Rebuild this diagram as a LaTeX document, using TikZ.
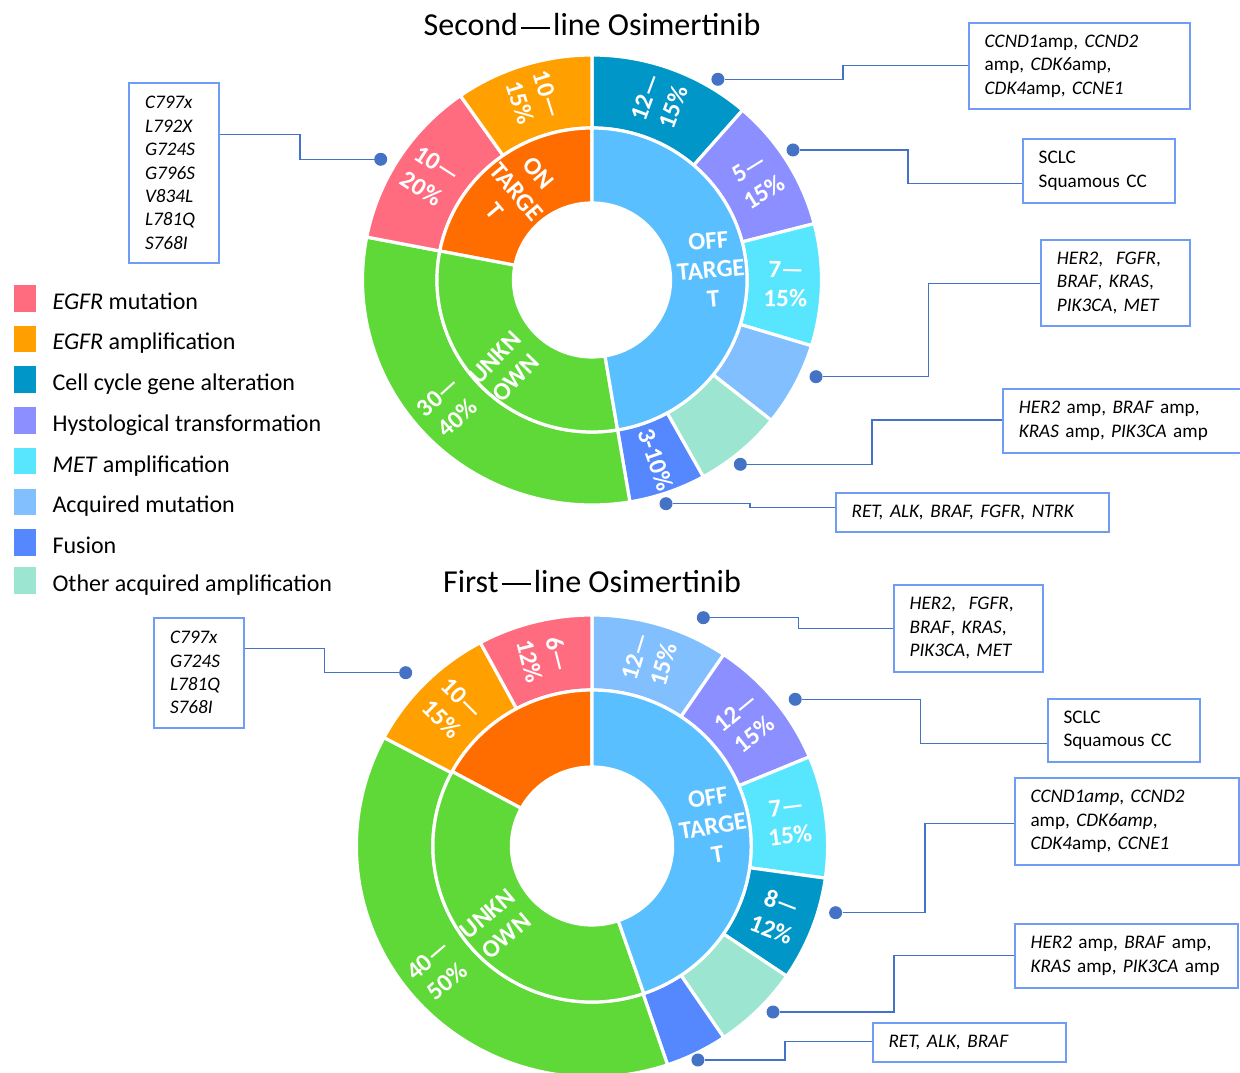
\documentclass[tikz,border=0pt]{standalone}
\usepackage{fontspec}
\setmainfont{Carlito}
\usetikzlibrary{positioning}

\definecolor{egfrmut}{HTML}{FF6C80}
\definecolor{egframp}{HTML}{FFA000}
\definecolor{cellcyc}{HTML}{0096C8}
\definecolor{histo}{HTML}{8C8FFF}
\definecolor{metamp}{HTML}{58E6FF}
\definecolor{acqmut}{HTML}{82BFFF}
\definecolor{fusion}{HTML}{5587FF}
\definecolor{othamp}{HTML}{9CE6D1}
\definecolor{ontarget}{HTML}{FF6D00}
\definecolor{offtarget}{HTML}{5ABFFF}
\definecolor{unknown}{HTML}{5FD937}
\definecolor{linkblue}{HTML}{4472C4}
\definecolor{boxblue}{HTML}{6F9DF5}

\newcommand{\longdash}{\kern0.1em\rule[0.21em]{0.9em}{0.065em}\kern0.1em}

\begin{document}
\begin{tikzpicture}[x=0.5pt, y=0.5pt,
        sector/.style={draw=white, line width=1.6pt},
        seglabel/.style={text=white, font=\fontsize{12.5}{14.5}\selectfont\bfseries, align=center, inner sep=0pt},
        legbox/.style={rectangle, minimum width=10.8pt, minimum height=13.3pt, inner sep=0pt},
        legtext/.style={inner sep=0pt, text height=11pt, text depth=0pt, font=\fontsize{12}{14}\selectfont},
        charttitle/.style={anchor=base, inner sep=0pt, font=\fontsize{16}{19}\selectfont},
        infobox/.style={rectangle, draw=boxblue, line width=1pt, fill=white, inner xsep=8pt, inner ysep=0pt, align=left, font=\fontsize{9.6}{11.7}\selectfont},
        linkdot/.style={circle, fill=linkblue, inner sep=0pt, minimum size=6.5pt},
        leader/.style={draw=linkblue, line width=0.75pt}]

        \useasboundingbox (0,0) rectangle (1240,1072);
        \fill[white] (0,0) rectangle (1240,1072);

        % Titles
        \node [charttitle] (title_second) at (592,1036) {Second\longdash line Osimertinib};
        \node [charttitle] (title_first) at (592,480) {First\longdash line Osimertinib};

        % Second-line chart
        \begin{scope}[shift={(592,792)}, xscale=1.02]
            \foreach \s/\e/\c in {49/90/cellcyc, 14.5/49/histo, -17/14.5/metamp, -38.6/-17/acqmut, -61/-38.6/othamp, -80.5/-61/fusion, 169/279.5/unknown, 125/169/egfrmut, 90/125/egframp}
                \path [sector, fill=\c] (\s:76pt) arc[start angle=\s, end angle=\e, radius=76pt] -- (\e:112.5pt) arc[start angle=\e, end angle=\s, radius=112.5pt] -- cycle;
            \foreach \s/\e/\c in {90/169/ontarget, 169/279.5/unknown, -80.5/90/offtarget}
                \path [sector, fill=\c] (\s:38.5pt) arc[start angle=\s, end angle=\e, radius=38.5pt] -- (\e:76pt) arc[start angle=\e, end angle=\s, radius=76pt] -- cycle;

            \node [seglabel, rotate=69.5] (s_cellcyc) at (69.5:95pt) {12—\\15\%};
            \node [seglabel, rotate=31.75] (s_histo) at (31.75:95pt) {5—\\15\%};
            \node [seglabel, rotate=-1.25] (s_metamp) at (-1.25:95pt) {7—\\15\%};
            \node [seglabel, rotate=-70.75] (s_fusion) at (-70.75:95pt) {3-10\%};
            \node [seglabel, rotate=42] (s_unknown) at (222:95pt) {30—\\40\%};
            \node [seglabel, rotate=-33] (s_egfrmut) at (147:95pt) {10—\\20\%};
            \node [seglabel, rotate=-72.5] (s_egframp) at (107.5:95pt) {10—\\15\%};
            \node [seglabel, rotate=-50] (s_on) at (130:57.5pt) {ON\\TARGE\\T};
            \node [seglabel, rotate=46] (s_unk) at (226:61pt) {UNKN\\OWN};
            \node [seglabel, rotate=5] (s_off) at (5:58.5pt) {OFF\\TARGE\\T};
        \end{scope}

        % First-line chart
        \begin{scope}[shift={(592,226)}, xscale=1.02]
            \foreach \s/\e/\c in {56/90/acqmut, 22.7/56/histo, -8/22.7/metamp, -34.3/-8/cellcyc, -56/-34.3/othamp, -71.3/-56/fusion, 152/288.7/unknown, 118.3/152/egframp, 90/118.3/egfrmut}
                \path [sector, fill=\c] (\s:78pt) arc[start angle=\s, end angle=\e, radius=78pt] -- (\e:115.5pt) arc[start angle=\e, end angle=\s, radius=115.5pt] -- cycle;
            \foreach \s/\e/\c in {90/151.5/ontarget, 151.5/289/unknown, -71/90/offtarget}
                \path [sector, fill=\c] (\s:39.5pt) arc[start angle=\s, end angle=\e, radius=39.5pt] -- (\e:78pt) arc[start angle=\e, end angle=\s, radius=78pt] -- cycle;

            \node [seglabel, rotate=73] (f_acqmut) at (73:97pt) {12—\\15\%};
            \node [seglabel, rotate=39.35] (f_histo) at (39.35:97pt) {12—\\15\%};
            \node [seglabel, rotate=7.35] (f_metamp) at (7.35:97pt) {7—\\15\%};
            \node [seglabel, rotate=-21.15] (f_cellcyc) at (-21.15:97pt) {8—\\12\%};
            \node [seglabel, rotate=40.35] (f_unknown) at (219.5:98pt) {40—\\50\%};
            \node [seglabel, rotate=-44.85] (f_egframp) at (135.15:97pt) {10—\\15\%};
            \node [seglabel, rotate=-75.85] (f_egfrmut) at (104.15:97pt) {6—\\12\%};
            \node [seglabel, rotate=40.25] (f_unk) at (220.25:61pt) {UNKN\\OWN};
            \node [seglabel, rotate=9.5] (f_off) at (9.5:60pt) {OFF\\TARGE\\T};
        \end{scope}

        % Legend
        \node [legbox, fill=egfrmut] (leg_egfrmut) at (25,773.7) {};
        \node [legbox, fill=egframp, below=6.65pt of leg_egfrmut] (leg_egframp) {};
        \node [legbox, fill=cellcyc, below=6.65pt of leg_egframp] (leg_cellcyc) {};
        \node [legbox, fill=histo, below=6.65pt of leg_cellcyc] (leg_histo) {};
        \node [legbox, fill=metamp, below=6.65pt of leg_histo] (leg_metamp) {};
        \node [legbox, fill=acqmut, below=6.65pt of leg_metamp] (leg_acqmut) {};
        \node [legbox, fill=fusion, below=6.65pt of leg_acqmut] (leg_fusion) {};
        \node [legbox, fill=othamp, below=5.2pt of leg_fusion] (leg_othamp) {};

        \node [legtext, right=8pt of leg_egfrmut] (lt_egfrmut) {\textit{EGFR} mutation};
        \node [legtext, right=8pt of leg_egframp] (lt_egframp) {\textit{EGFR} amplification};
        \node [legtext, right=8pt of leg_cellcyc] (lt_cellcyc) {Cell cycle gene alteration};
        \node [legtext, right=8pt of leg_histo] (lt_histo) {Hystological transformation};
        \node [legtext, right=8pt of leg_metamp] (lt_metamp) {\textit{MET} amplification};
        \node [legtext, right=8pt of leg_acqmut] (lt_acqmut) {Acquired mutation};
        \node [legtext, right=8pt of leg_fusion] (lt_fusion) {Fusion};
        \node [legtext, right=8pt of leg_othamp] (lt_othamp) {Other acquired amplification};

        % Boxes, second-line
        \node [infobox, text width=29pt, minimum height=90.3pt] (mutbox) at (174,899) {\textit{C797x}\\\textit{L792X}\\\textit{G724S}\\\textit{G796S}\\\textit{V834L}\\\textit{L781Q}\\\textit{S768I}};
        \node [infobox, text width=94.5pt, minimum height=43.3pt] (cellbox) at (1079.2,1006) {\textit{CCND1}amp, \textit{CCND2}\\amp, \textit{CDK6}amp,\\\textit{CDK4}amp, \textit{CCNE1}};
        \node [infobox, text width=59.9pt, minimum height=31.7pt] (histbox) at (1098.6,901) {SCLC\\Squamous CC};
        \node [infobox, text width=58.4pt, minimum height=43pt] (acqbox) at (1115.3,789) {\textit{HER2},~ \textit{FGFR},\\\textit{BRAF}, \textit{KRAS},\\\textit{PIK3CA}, \textit{MET}};
        \node [infobox, text width=103.6pt, minimum height=32pt] (ampbox) at (1122.4,651.3) {\textit{HER2} amp, \textit{BRAF} amp,\\\textit{KRAS} amp, \textit{PIK3CA} amp};
        \node [infobox, text width=120.6pt, minimum height=19.7pt] (fusbox) at (972.2,559.7) {\textit{RET, ALK, BRAF, FGFR, NTRK}};

        % Boxes, first-line
        \node [infobox, text width=29pt, minimum height=55pt] (mutbox2) at (199,399.3) {\textit{C797x}\\\textit{G724S}\\\textit{L781Q}\\\textit{S768I}};
        \node [infobox, text width=58.75pt, minimum height=43.35pt] (acqbox2) at (968.4,443.7) {\textit{HER2},~ \textit{FGFR},\\\textit{BRAF}, \textit{KRAS},\\\textit{PIK3CA}, \textit{MET}};
        \node [infobox, text width=60pt, minimum height=31.8pt] (histbox2) at (1123.5,341.5) {SCLC\\Squamous CC};
        \node [infobox, text width=96.2pt, minimum height=43.35pt] (cellbox2) at (1126.7,250.3) {\textit{CCND1amp}, \textit{CCND2}\\amp, \textit{CDK6amp},\\\textit{CDK4}amp, \textit{CCNE1}};
        \node [infobox, text width=95.75pt, minimum height=31.7pt] (ampbox2) at (1126.3,116) {\textit{HER2} amp, \textit{BRAF} amp,\\\textit{KRAS} amp, \textit{PIK3CA} amp};
        \node [infobox, text width=80.6pt, minimum height=19.5pt] (fusbox2) at (969.1,29.8) {\textit{RET, ALK, BRAF}};

        % Dots on the rings
        \node [linkdot] (d_mut) at (380.7,912.7) {};
        \node [linkdot] (d_cell) at (717.9,992.7) {};
        \node [linkdot] (d_hist) at (793,922) {};
        \node [linkdot] (d_acq) at (816,695.3) {};
        \node [linkdot] (d_amp) at (740.3,607.7) {};
        \node [linkdot] (d_fus) at (666,568.3) {};
        \node [linkdot] (d_mut2) at (405.7,399.3) {};
        \node [linkdot] (d_acq2) at (703.3,454.3) {};
        \node [linkdot] (d_hist2) at (795.2,372.7) {};
        \node [linkdot] (d_cell2) at (835.6,159.3) {};
        \node [linkdot] (d_amp2) at (773,60) {};
        \node [linkdot] (d_fus2) at (697.9,12) {};

        % Elbows, level with the box side
        \coordinate (k_mut) at (300,937.7);
        \coordinate (k_cell) at (842.9,1006.3);
        \coordinate (k_hist) at (908,888.7);
        \coordinate (k_acq) at (928.6,788.7);
        \coordinate (k_amp) at (871.9,652);
        \coordinate (k_fus) at (750.2,564.3);
        \coordinate (k_mut2) at (324.3,423.7);
        \coordinate (k_acq2) at (798.4,443.7);
        \coordinate (k_hist2) at (920.4,328.7);
        \coordinate (k_cell2) at (925,248.7);
        \coordinate (k_amp2) at (894,116.3);
        \coordinate (k_fus2) at (784.8,30.3);

        % Paths
        \path [leader] (d_mut) -| (k_mut) -- (k_mut -| mutbox.east);
        \path [leader] (d_cell) -| (k_cell) -- (k_cell -| cellbox.west);
        \path [leader] (d_hist) -| (k_hist) -- (k_hist -| histbox.west);
        \path [leader] (d_acq) -| (k_acq) -- (k_acq -| acqbox.west);
        \path [leader] (d_amp) -| (k_amp) -- (k_amp -| ampbox.west);
        \path [leader] (d_fus) -| (k_fus) -- (k_fus -| fusbox.west);
        \path [leader] (d_mut2) -| (k_mut2) -- (k_mut2 -| mutbox2.east);
        \path [leader] (d_acq2) -| (k_acq2) -- (k_acq2 -| acqbox2.west);
        \path [leader] (d_hist2) -| (k_hist2) -- (k_hist2 -| histbox2.west);
        \path [leader] (d_cell2) -| (k_cell2) -- (k_cell2 -| cellbox2.west);
        \path [leader] (d_amp2) -| (k_amp2) -- (k_amp2 -| ampbox2.west);
        \path [leader] (d_fus2) -| (k_fus2) -- (k_fus2 -| fusbox2.west);
    \end{tikzpicture}
\end{document}
